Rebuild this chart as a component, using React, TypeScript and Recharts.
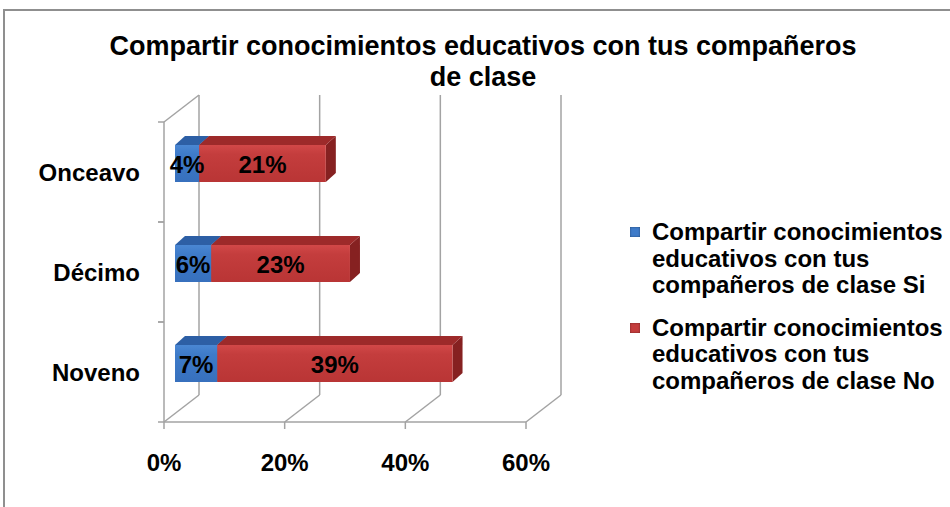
import { Bar, BarChart, CartesianGrid, LabelList, Legend, XAxis, YAxis } from 'recharts'

const categorias = ['Onceavo', 'Décimo', 'Noveno']
const valoresSi = [0.04, 0.06, 0.07]
const valoresNo = [0.21, 0.23, 0.39]
const ticksX = [0, 0.2, 0.4, 0.6]

const nombreSi = 'Compartir conocimientos educativos con tus compañeros de clase Si'
const nombreNo = 'Compartir conocimientos educativos con tus compañeros de clase No'
const titulo = 'Compartir conocimientos educativos con tus compañeros de clase'
const ordenSeries = ['si', 'no']

const datos = categorias.map((curso, i) => ({ curso, si: valoresSi[i], no: valoresNo[i] }))

const FUENTE = "'Liberation Sans', Arial, sans-serif"
const GRIS = '#a3a3a3'
const ALTO_PLOT = 300
const BANDA = ALTO_PLOT / categorias.length
// profundidad de la pared del fondo
const PX = 35
const PY = 27
// desplazamiento de la cara frontal de la barra y su grosor
const BX = 11
const BY = -9
const DX = 10
const DY = 9

const pct = (v: number) => `${Math.round(v * 100)}%`

const AZUL = { frente: 'url(#frenteAzul)', arriba: '#2d5fa5', lado: '#234e8c' }
const ROJO = { frente: 'url(#frenteRojo)', arriba: '#9d2a2a', lado: '#862121' }

const Barra3D = (props: any) => {
  const { x, y, width, height, colores } = props
  if (!width || width <= 0) return null
  const fx = x + BX
  const fy = y + BY
  return (
    <g>
      <polygon
        points={`${fx + width},${fy} ${fx + width + DX},${fy - DY} ${fx + width + DX},${fy + height - DY} ${fx + width},${fy + height}`}
        fill={colores.lado}
      />
      <polygon
        points={`${fx},${fy} ${fx + DX},${fy - DY} ${fx + width + DX},${fy - DY} ${fx + width},${fy}`}
        fill={colores.arriba}
      />
      <rect x={fx} y={fy} width={width} height={height} fill={colores.frente} />
    </g>
  )
}

const Etiqueta = (props: any) => {
  const { x, y, width, height, value } = props
  return (
    <text
      x={x + width / 2 + BX}
      y={y + height / 2 + BY + 1}
      textAnchor="middle"
      dominantBaseline="central"
      fontFamily={FUENTE}
      fontWeight="bold"
      fontSize={24}
      fill="#000"
    >
      {pct(value)}
    </text>
  )
}

const LineaFondo = (p: any) => {
  const { x1, y1, y2, index } = p
  return (
    <g key={`fondo-${index}`}>
      <line x1={x1} y1={y2} x2={x1 + PX} y2={y2 - PY} stroke={GRIS} strokeWidth={1.5} />
      <line x1={x1 + PX} y1={y1 - PY} x2={x1 + PX} y2={y2 - PY} stroke={GRIS} strokeWidth={1.5} />
      {index === 0 && <line x1={x1} y1={y1} x2={x1 + PX} y2={y1 - PY} stroke={GRIS} strokeWidth={1.5} />}
    </g>
  )
}

const TickCurso = (p: any) => {
  const { x, y, payload } = p
  return (
    <g>
      <line x1={x - 6} y1={y - BANDA / 2} x2={x} y2={y - BANDA / 2} stroke={GRIS} strokeWidth={1.5} />
      <line x1={x - 6} y1={y + BANDA / 2} x2={x} y2={y + BANDA / 2} stroke={GRIS} strokeWidth={1.5} />
      <text x={x - 24} y={y} textAnchor="end" dominantBaseline="central" fontFamily={FUENTE} fontWeight="bold" fontSize={24} fill="#000">
        {payload.value}
      </text>
    </g>
  )
}

const TickPct = (p: any) => {
  const { x, y, payload } = p
  return (
    <g>
      <line x1={x} y1={y} x2={x} y2={y + 7} stroke={GRIS} strokeWidth={1.5} />
      <text x={x} y={y + 40} textAnchor="middle" dominantBaseline="central" fontFamily={FUENTE} fontWeight="bold" fontSize={24} fill="#000">
        {pct(payload.value)}
      </text>
    </g>
  )
}

const Leyenda = (props: any) => {
  const items = [...(props.payload || [])].sort(
    (a: any, b: any) => ordenSeries.indexOf(a.dataKey) - ordenSeries.indexOf(b.dataKey),
  )
  return (
    <div style={{ fontFamily: FUENTE, fontWeight: 'bold', fontSize: 24, lineHeight: '26.5px', color: '#000' }}>
      {items.map((e: any, i: number) => (
        <div key={i} style={{ position: 'relative', paddingLeft: 24, marginBottom: 16, width: 300 }}>
          <span
            style={{
              position: 'absolute',
              left: 2,
              top: 8,
              width: 10,
              height: 10,
              background: e.color,
              boxShadow: 'inset 0 0 2px rgba(0,0,0,0.5)',
            }}
          />
          {e.value}
        </div>
      ))}
    </div>
  )
}

export default function App() {
  return (
    <div style={{ position: 'absolute', left: 0, top: 0, width: 950, height: 507, overflow: 'hidden', background: '#fff' }}>
      <div style={{ position: 'absolute', left: 3, top: 9, width: 980, height: 540, border: '2px solid #8f8f8f' }} />
      <div
        style={{
          position: 'absolute',
          left: 0,
          top: 31,
          width: 966,
          textAlign: 'center',
          fontFamily: FUENTE,
          fontWeight: 'bold',
          fontSize: 27,
          lineHeight: '31px',
          color: '#000',
        }}
      >
        Compartir conocimientos educativos con tus compañeros
        <br />
        de clase
      </div>
      <BarChart
        width={950}
        height={507}
        data={datos}
        layout="vertical"
        margin={{ top: 122, right: 424, bottom: 25, left: 0 }}
        style={{ position: 'absolute', left: 0, top: 0 }}
        title={titulo}
      >
        <defs>
          <linearGradient id="frenteAzul" x1="0" y1="0" x2="0" y2="1">
            <stop offset="0" stopColor="#4a87d3" />
            <stop offset="0.25" stopColor="#3e7bc9" />
            <stop offset="1" stopColor="#3770bd" />
          </linearGradient>
          <linearGradient id="frenteRojo" x1="0" y1="0" x2="0" y2="1">
            <stop offset="0" stopColor="#d24848" />
            <stop offset="0.25" stopColor="#c43d3d" />
            <stop offset="1" stopColor="#b93535" />
          </linearGradient>
        </defs>
        <CartesianGrid horizontal={false} vertical={LineaFondo} />
        <XAxis
          type="number"
          domain={[0, 0.6]}
          ticks={ticksX}
          height={60}
          tickSize={0}
          tickMargin={0}
          tickLine={false}
          axisLine={{ stroke: GRIS, strokeWidth: 1.5 }}
          tick={<TickPct />}
          interval={0}
        />
        <YAxis
          type="category"
          dataKey="curso"
          width={164}
          tickSize={0}
          tickMargin={0}
          tickLine={false}
          axisLine={{ stroke: GRIS, strokeWidth: 1.5 }}
          tick={<TickCurso />}
          interval={0}
        />
        <Legend
          layout="horizontal"
          verticalAlign="middle"
          align="center"
          wrapperStyle={{ left: 628, top: 219, width: 320 }}
          content={<Leyenda />}
        />
        <Bar
          dataKey="si"
          name={nombreSi}
          stackId="a"
          fill="#3e7bc9"
          barSize={37}
          isAnimationActive={false}
          shape={(p: any) => <Barra3D {...p} colores={AZUL} />}
        >
          <LabelList dataKey="si" content={<Etiqueta />} />
        </Bar>
        <Bar
          dataKey="no"
          name={nombreNo}
          stackId="a"
          fill="#c43d3d"
          barSize={37}
          isAnimationActive={false}
          shape={(p: any) => <Barra3D {...p} colores={ROJO} />}
        >
          <LabelList dataKey="no" content={<Etiqueta />} />
        </Bar>
      </BarChart>
    </div>
  )
}
